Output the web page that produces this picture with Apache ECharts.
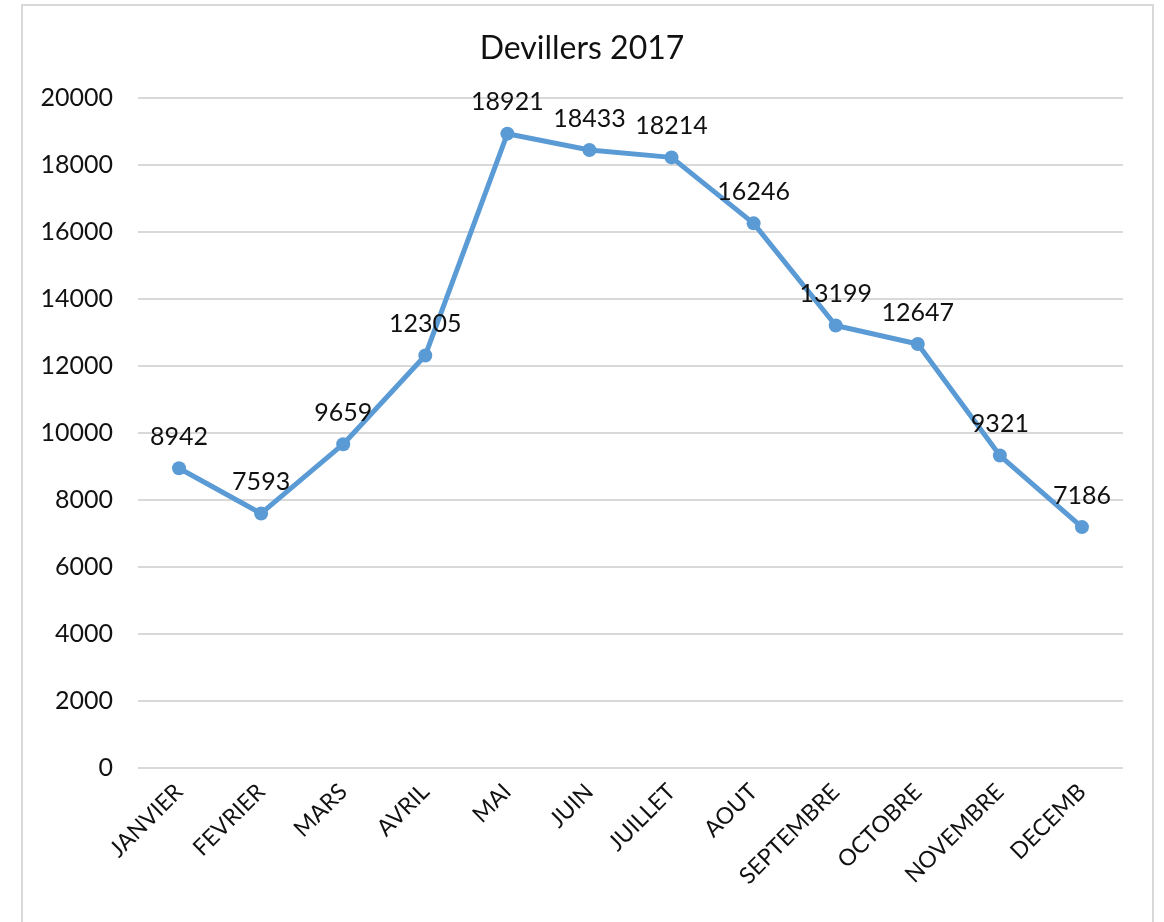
<!DOCTYPE html>
<html>
<head>
<meta charset="utf-8">
<script src="https://cdn.jsdelivr.net/npm/echarts@6/dist/echarts.min.js"></script>
<style>
  html, body { margin: 0; padding: 0; background: #fff; }
  #frame {
    position: absolute; left: 21px; top: 4px; width: 1133px; height: 940px;
    border: 2px solid #d9d9d9; box-sizing: border-box;
  }
  #chart { position: absolute; left: 0; top: 0; width: 1164px; height: 922px; }
</style>
</head>
<body>
<div id="frame"></div>
<div id="chart"></div>
<script>
  // données
  const months = ['JANVIER', 'FEVRIER', 'MARS', 'AVRIL', 'MAI', 'JUIN', 'JUILLET',
    'AOUT', 'SEPTEMBRE', 'OCTOBRE', 'NOVEMBRE', 'DECEMB']
  const values = [8942, 7593, 9659, 12305, 18921, 18433, 18214, 16246, 13199, 12647, 9321, 7186]

  const font = 'Lato, "DejaVu Sans", sans-serif'
  const chart = echarts.init(document.getElementById('chart'))

  const option = {
    animation: false,
    title: {
      text: 'Devillers 2017',
      left: 'center',
      top: 28,
      textStyle: { fontFamily: font, fontSize: 32, fontWeight: 'normal', color: '#111' }
    },
    grid: { left: 138, right: 41, top: 97.5, bottom: 154 },
    xAxis: {
      type: 'category',
      data: months,
      boundaryGap: true,
      axisLine: { show: false },
      axisTick: { show: false },
      axisLabel: {
        rotate: 45,
        interval: 0,
        margin: 20,
        fontFamily: font,
        fontSize: 23,
        color: '#111'
      }
    },
    yAxis: {
      type: 'value',
      min: 0,
      max: 20000,
      interval: 2000,
      axisLine: { show: false },
      axisTick: { show: false },
      axisLabel: {
        margin: 25,
        fontFamily: font,
        fontSize: 25,
        color: '#111',
        formatter: (v) => String(v)
      },
      splitLine: { lineStyle: { color: '#d9d9d9', width: 2 } }
    },
    series: [{
      type: 'line',
      data: values,
      symbol: 'circle',
      symbolSize: 14,
      lineStyle: { color: '#5b9bd5', width: 5 },
      itemStyle: { color: '#5b9bd5' },
      label: {
        show: true,
        position: 'top',
        distance: 12,
        fontFamily: font,
        fontSize: 25,
        color: '#111'
      }
    }]
  }

  chart.setOption(option)
</script>
</body>
</html>
